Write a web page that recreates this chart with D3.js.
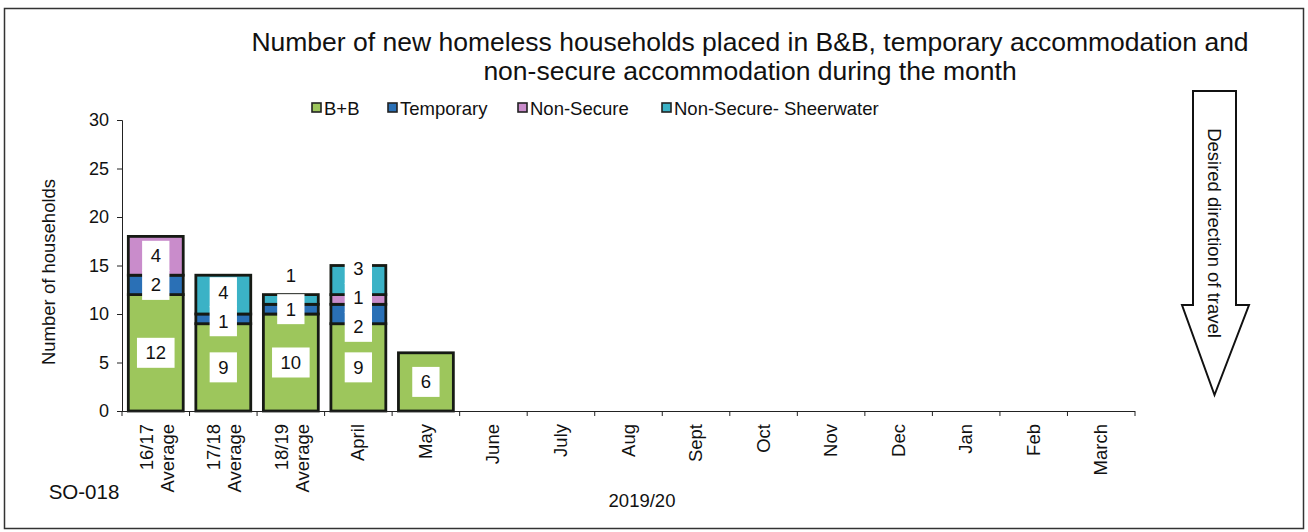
<!DOCTYPE html>
<html>
<head>
<meta charset="utf-8">
<script src="https://cdn.jsdelivr.net/npm/d3@7"></script>
<style>
  html, body { margin: 0; padding: 0; background: #fff; }
  svg { display: block; font-family: "Liberation Sans", Arial, sans-serif; }
</style>
</head>
<body>
<svg id="chart" width="1308" height="532"></svg>
<script>
// Categories along the x axis (multi-line labels split on "|")
const categories = ["16/17|Average", "17/18|Average", "18/19|Average", "April", "May", "June",
  "July", "Aug", "Sept", "Oct", "Nov", "Dec", "Jan", "Feb", "March"];

// Series values per category (null = no data yet)
const bbValues          = [12, 9, 10, 9, 6, null, null, null, null, null, null, null, null, null, null];
const temporaryValues   = [2, 1, 1, 2, 0, null, null, null, null, null, null, null, null, null, null];
const nonSecureValues   = [4, 0, 0, 1, 0, null, null, null, null, null, null, null, null, null, null];
const sheerwaterValues  = [0, 4, 1, 3, 0, null, null, null, null, null, null, null, null, null, null];

const seriesNames  = ["B+B", "Temporary", "Non-Secure", "Non-Secure- Sheerwater"];
const seriesColors = ["#9dc65c", "#2a70b6", "#c98ccb", "#3bb2c6"];
const yTicks = [0, 5, 10, 15, 20, 25, 30];

const titleLines = ["Number of new homeless households placed in B&B, temporary accommodation and",
  "non-secure accommodation during the month"];

const svg = d3.select("#chart");

// outer frame
svg.append("rect").attr("x", 4.5).attr("y", 8.5).attr("width", 1299).attr("height", 520)
  .attr("fill", "#fff").attr("stroke", "#333").attr("stroke-width", 1.5);

// plot geometry
const plot = { left: 122, right: 1135, top: 120, bottom: 411 };

const x = d3.scaleBand().domain(d3.range(categories.length))
  .range([plot.left, plot.right]).paddingInner(0.15).paddingOuter(0.075);
const y = d3.scaleLinear().domain([0, 30]).range([plot.bottom, plot.top]);

// title
svg.append("g").selectAll("text").data(titleLines).join("text")
  .attr("x", 750).attr("y", (d, i) => 51 + i * 29)
  .attr("text-anchor", "middle").attr("font-size", 26.5).attr("fill", "#111")
  .text(d => d);

// legend
const legendX = [312, 388, 518, 662];
const legend = svg.append("g").selectAll("g").data(seriesNames).join("g")
  .attr("transform", (d, i) => `translate(${legendX[i]},108)`);
legend.append("rect").attr("x", 0).attr("y", -5).attr("width", 9).attr("height", 9)
  .attr("fill", (d, i) => seriesColors[i]).attr("stroke", "#222").attr("stroke-width", 1.6);
legend.append("text").attr("x", 12).attr("y", 6.5).attr("font-size", 18.5).attr("fill", "#111")
  .text(d => d);

// y axis
const yAxis = svg.append("g").attr("transform", `translate(${plot.left},0)`)
  .call(d3.axisLeft(y).tickValues(yTicks).tickSize(5).tickPadding(8));
yAxis.select(".domain").attr("stroke", "#222");
yAxis.selectAll(".tick line").attr("stroke", "#222");
yAxis.selectAll("text").attr("font-size", 18).attr("fill", "#111")
  .attr("font-family", "Liberation Sans, Arial, sans-serif");

svg.append("text")
  .attr("transform", `translate(55,272) rotate(-90)`)
  .attr("text-anchor", "middle").attr("font-size", 18.5).attr("fill", "#111")
  .text("Number of households");

// stacked data
const table = categories.map((c, i) => ({
  i, vals: [bbValues[i], temporaryValues[i], nonSecureValues[i], sheerwaterValues[i]]
}));
const segments = [];
table.forEach(row => {
  let acc = 0;
  const segs = [];
  row.vals.forEach((v, s) => {
    if (v == null || v === 0) return;
    segs.push({ i: row.i, s, v, y0: acc, y1: acc + v });
    acc += v;
  });
  segs.forEach((d, k) => { d.top = k === segs.length - 1; d.total = acc; });
  segments.push(...segs);
});

// bars
svg.append("g").selectAll("rect").data(segments).join("rect")
  .attr("x", d => x(d.i) + 1.25)
  .attr("width", x.bandwidth() - 2.5)
  .attr("y", d => y(d.y1))
  .attr("height", d => y(d.y0) - y(d.y1))
  .attr("fill", d => seriesColors[d.s])
  .attr("stroke", "#161a14").attr("stroke-width", 2.8);

// x axis line and boundary ticks
svg.append("line").attr("x1", plot.left).attr("x2", plot.right)
  .attr("y1", plot.bottom + 0.5).attr("y2", plot.bottom + 0.5).attr("stroke", "#222");
const bounds = d3.range(categories.length + 1).map(k => plot.left + k * x.step());
svg.append("g").selectAll("line").data(bounds).join("line")
  .attr("x1", d => d).attr("x2", d => d)
  .attr("y1", plot.bottom).attr("y2", plot.bottom + 5).attr("stroke", "#222");

// category labels, rotated
const xl = svg.append("g").selectAll("g").data(categories).join("g")
  .attr("transform", (d, i) => `translate(${x(i) + x.bandwidth() / 2},${plot.bottom + 13}) rotate(-90)`);
xl.each(function(d) {
  const lines = d.split("|");
  const g = d3.select(this);
  const offs = lines.length === 1 ? [6] : [-3, 18];
  lines.forEach((t, k) => {
    g.append("text").attr("x", 0).attr("y", offs[k]).attr("text-anchor", "end")
      .attr("font-size", 18.5).attr("fill", "#111").text(t);
  });
});

svg.append("text").attr("x", 642).attr("y", 507).attr("text-anchor", "middle")
  .attr("font-size", 18.5).attr("fill", "#111").text("2019/20");
svg.append("text").attr("x", 84).attr("y", 499).attr("text-anchor", "middle")
  .attr("font-size", 20.5).attr("fill", "#111").text("SO-018");

// data labels: centred in segments, thin top segments go above the bar,
// crowded labels are pushed apart
const labelH = 29;
const labels = segments.map(d => {
  const hpx = y(d.y0) - y(d.y1);
  const cy = (d.top && hpx < 14) ? y(d.y1) - 19 : (y(d.y0) + y(d.y1)) / 2;
  return { ...d, cx: x(d.i) + x.bandwidth() / 2, cy };
});
d3.groups(labels, d => d.i).forEach(([, ls]) => {
  ls.sort((a, b) => a.cy - b.cy);
  for (let it = 0; it < 60; it++) {
    for (let k = 0; k < ls.length - 1; k++) {
      const gap = ls[k + 1].cy - ls[k].cy;
      if (gap < labelH) {
        const push = (labelH - gap) / 2;
        ls[k].cy -= push; ls[k + 1].cy += push;
      }
    }
  }
});
const lg = svg.append("g").selectAll("g").data(labels).join("g")
  .attr("transform", d => `translate(${d.cx},${d.cy})`);
lg.append("rect")
  .attr("x", d => -(String(d.v).length * 10.3 + 17) / 2)
  .attr("width", d => String(d.v).length * 10.3 + 17)
  .attr("y", -15).attr("height", 30).attr("fill", "#fff");
lg.append("text").attr("text-anchor", "middle").attr("y", 6.5)
  .attr("font-size", 18.5).attr("fill", "#111").text(d => d.v);

// direction arrow
const ax = { l: 1193, r: 1236, top: 91, neck: 305, hl: 1182, hr: 1249, tip: 395 };
const arrowPts = [[ax.l, ax.top], [ax.r, ax.top], [ax.r, ax.neck], [ax.hr, ax.neck],
  [(ax.l + ax.r) / 2, ax.tip], [ax.hl, ax.neck], [ax.l, ax.neck]];
svg.append("path").attr("d", d3.line()(arrowPts) + "Z")
  .attr("fill", "#fff").attr("stroke", "#111").attr("stroke-width", 2);
svg.append("text")
  .attr("transform", `translate(1208,233) rotate(90)`)
  .attr("text-anchor", "middle").attr("font-size", 18.5).attr("fill", "#111")
  .text("Desired direction of travel");
</script>
</body>
</html>
